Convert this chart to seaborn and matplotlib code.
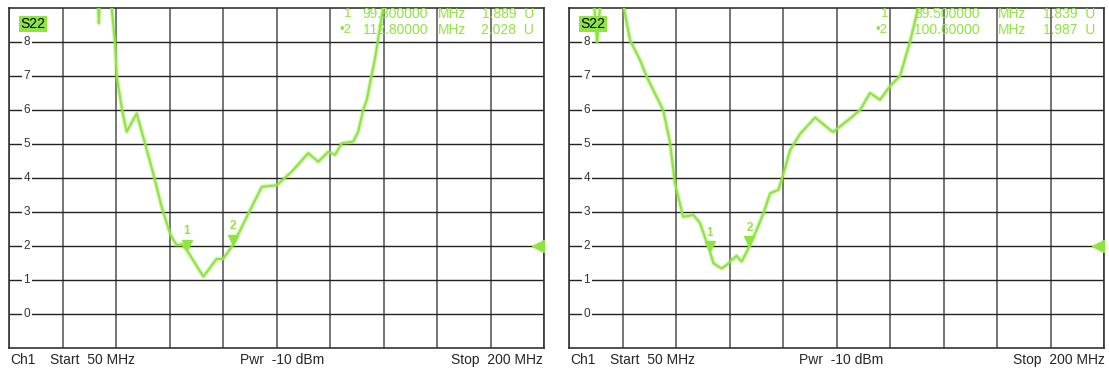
import numpy as np
import pandas as pd
import seaborn as sns
import matplotlib.pyplot as plt

# S22 traces (MHz, U)
left_freq = [50, 74.8, 75.2, 75.5, 78.5, 78.8, 79.7, 80.2, 81.7, 83.0, 85.8, 86.7, 88.1,
             90.4, 92.8, 95.1, 96.0, 97.0, 98.5, 99.8, 104.5, 108.2, 110.0, 112.8, 117.6,
             120.9, 125.1, 129.3, 133.9, 136.7, 139.5, 141.4, 143.3, 146.5, 147.9, 149.3,
             150.3, 152.6, 154.9, 156.0, 200]
left_s22 = [9.8, 9.8, 8.55, 9.8, 9.8, 9.0, 8.0, 7.0, 6.0, 5.36, 5.9, 5.56, 5.03,
            4.15, 3.15, 2.38, 2.2, 2.03, 2.05, 1.89, 1.10, 1.62, 1.62, 2.03, 3.06,
            3.74, 3.79, 4.19, 4.73, 4.48, 4.77, 4.68, 5.02, 5.07, 5.36, 6.0,
            6.3, 7.5, 9.0, 9.8, 9.8]

right_freq = [50, 56.5, 57.9, 59.3, 65.0, 65.4, 67.1, 69.9, 71.8, 73.6, 76.4, 78.3, 79.7,
              82.0, 84.9, 86.7, 89.5, 90.5, 92.8, 94.2, 95.6, 97.0, 98.4, 100.6, 102.6,
              104.5, 106.4, 108.7, 109.6, 112.0, 114.8, 119.0, 124.0, 128.8, 131.6,
              134.4, 137.2, 140.0, 142.8, 144.2, 145.6, 147.9, 149.0, 200]
right_s22 = [9.8, 9.8, 8.0, 9.8, 9.8, 9.0, 8.06, 7.47, 6.98, 6.59, 6.0, 5.06, 3.85,
             2.86, 2.91, 2.68, 1.84, 1.49, 1.34, 1.44, 1.59, 1.71, 1.54, 1.99, 2.47,
             2.96, 3.55, 3.65, 3.94, 4.82, 5.3, 5.78, 5.35, 5.75, 6.0,
             6.5, 6.3, 6.7, 7.0, 7.5, 8.0, 9.0, 9.8, 9.8]

markers_left = [("1", 99.8, "99.800000", 1.889), ("2", 112.8, "112.80000", 2.028)]
markers_right = [("1", 89.5, "89.500000", 1.839), ("2", 100.6, "100.60000", 1.987)]

y_labels = ["0", "1", "2", "3", "4", "5", "6", "7", "8"]

sns.set_style("white")
plt.rcParams["font.family"] = ["Liberation Sans", "DejaVu Sans"]

green = "#8ee53f"
W, H = 1109, 370
fig = plt.figure(figsize=(W / 100, H / 100), dpi=100)

panels = [
    (9, left_freq, left_s22, markers_left, (336, 419, 429, 525), (10, 50, 282, 543)),
    (569, right_freq, right_s22, markers_right, (313, 411, 429, 526), (570, 610, 841, 1105)),
]

for x0, freq, s22, mks, txt_x, foot_x in panels:
    ax = fig.add_axes([x0 / W, 22 / H, 535 / W, 340 / H])
    df = pd.DataFrame({"freq": freq, "s22": s22})
    # soft halo + trace, the analyzer trace looks fuzzy
    sns.lineplot(data=df, x="freq", y="s22", ax=ax, color=green, lw=3.2, alpha=0.35,
                 estimator=None, sort=False, zorder=5)
    sns.lineplot(data=df, x="freq", y="s22", ax=ax, color=green, lw=1.5,
                 estimator=None, sort=False, zorder=5)
    ax.set_xlim(50, 200)
    ax.set_ylim(-1, 9)
    ax.set_xticks(np.arange(50, 201, 15))
    ax.set_yticks(np.arange(0, 9))
    ax.set_xticklabels([])
    ax.set_yticklabels([])
    ax.tick_params(length=0)
    ax.set_xlabel("")
    ax.set_ylabel("")
    ax.xaxis.grid(True, color="#6a6a6a", lw=1.3)
    ax.yaxis.grid(True, color="#222222", lw=1.0)
    for sp in ax.spines.values():
        sp.set_color("#333333")
        sp.set_linewidth(1.2)

    # y scale labels drawn on the grid lines
    for i, lab in enumerate(y_labels):
        ax.text(0.033, i, lab, transform=ax.get_yaxis_transform(), ha="center",
                va="center", fontsize=8.5, color="#333333", zorder=3,
                bbox=dict(boxstyle="square,pad=0.15", fc="white", ec="none"))

    ax.text(0.045, 8.53, "S22", transform=ax.get_yaxis_transform(), ha="center",
            va="center", fontsize=10, color="black", zorder=6,
            bbox=dict(boxstyle="square,pad=0.1", fc=green, ec="none"))

    # marker readout
    px = lambda p: p / 535
    for row, (num, mf, ftxt, val) in enumerate(mks):
        yv = 8.82 - row * 0.47
        lbl = num if row == 0 else "\u2022" + num
        ax.text(px(txt_x[0] + 6), yv, lbl, transform=ax.get_yaxis_transform(),
                ha="right", va="center", fontsize=9.5, color=green, zorder=4)
        ax.text(px(txt_x[1]), yv, ftxt, transform=ax.get_yaxis_transform(),
                ha="right", va="center", fontsize=10, color=green, zorder=4)
        ax.text(px(txt_x[2]), yv, "MHz", transform=ax.get_yaxis_transform(),
                ha="left", va="center", fontsize=10, color=green, zorder=4)
        ax.text(px(txt_x[3]), yv, f"{val:.3f}  U", transform=ax.get_yaxis_transform(),
                ha="right", va="center", fontsize=10, color=green, zorder=4)
        # marker triangles on the trace
        ax.plot(mf, val + 0.15, marker="v", ms=7, color=green, zorder=6)
        ax.text(mf, val + 0.55, num, ha="center", va="center", fontsize=8.5,
                color=green, fontweight="bold", zorder=6)

    # reference level arrow
    ax.plot(198.4, 2, marker="<", ms=9, color=green, zorder=6, clip_on=False)

    fy = 10 / H
    fig.text(foot_x[0] / W, fy, "Ch1", ha="left", va="center", fontsize=10)
    fig.text(foot_x[1] / W, fy, "Start  50 MHz", ha="left", va="center", fontsize=10)
    fig.text(foot_x[2] / W, fy, "Pwr  -10 dBm", ha="center", va="center", fontsize=10)
    fig.text(foot_x[3] / W, fy, "Stop  200 MHz", ha="right", va="center", fontsize=10)

fig.savefig("out.png", dpi=100, facecolor="white")
